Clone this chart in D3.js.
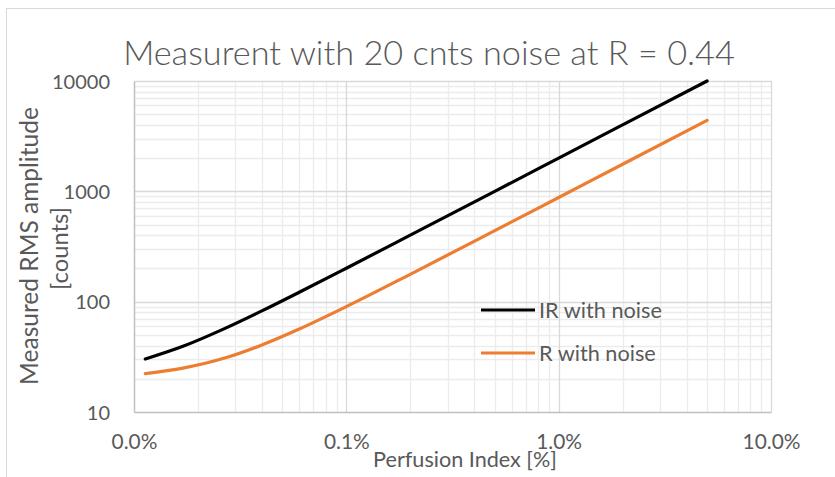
<!DOCTYPE html>
<html><head><meta charset="utf-8">
<script src="https://cdn.jsdelivr.net/npm/d3@7"></script>
<style>body{margin:0;background:#fff}svg{display:block}text{font-family:Lato,"Open Sans",sans-serif;fill:#595959}</style>
</head><body><svg id="c" width="835" height="477"></svg>
<script>
const title = "Measurent with 20 cnts noise at R = 0.44";
const xTitle = "Perfusion Index [%]";
const yTitleLines = ["Measured RMS amplitude", "[counts]"];
const seriesNames = ["IR with noise", "R with noise"];
const perfusionIndex = [0.0113, 0.017, 0.027, 0.04, 0.06, 0.1, 0.2, 0.5, 1, 2, 5];
const irValues = [30.2, 39.4, 57.6, 82.5, 121.7, 201, 400.5, 1000, 2000, 4000, 10000];
const rValues = [22.3, 25.0, 31.0, 40.5, 56.5, 90.2, 177, 440, 880, 1760, 4400];
const xTicks = [0.01, 0.1, 1, 10];
const xTickLabels = ["0.0%", "0.1%", "1.0%", "10.0%"];
const yTicks = [10, 100, 1000, 10000];
const yTickLabels = ["10", "100", "1000", "10000"];

const svg = d3.select("#c");
const m = {l: 134, r: 771, t: 81, b: 412};
const x = d3.scaleLog().domain([0.01, 10]).range([m.l, m.r]);
const y = d3.scaleLog().domain([10, 10000]).range([m.b, m.t]);

// scale a text's font-size so that its width equals target
function fit(sel, target, base) {
  sel.style("font-size", base + "px");
  const w = sel.node().getComputedTextLength();
  const fs = base * target / w;
  sel.style("font-size", fs + "px");
  return fs;
}

// chart frame
svg.append("rect").attr("x", 6.5).attr("y", 8.5).attr("width", 900).attr("height", 600)
  .attr("fill", "none").attr("stroke", "#d9d9d9");

// minor grid
const minorX = [], minorY = [];
for (let d = 0.01; d < 10; d *= 10) for (let k = 2; k <= 9; k++) minorX.push(d * k);
for (let d = 10; d < 10000; d *= 10) for (let k = 2; k <= 9; k++) minorY.push(d * k);
const g = svg.append("g");
g.selectAll(".mx").data(minorX).join("line")
  .attr("x1", d => Math.round(x(d)) + 0.5).attr("x2", d => Math.round(x(d)) + 0.5)
  .attr("y1", m.t).attr("y2", m.b).attr("stroke", "#ececec").attr("stroke-width", 1.3);
g.selectAll(".my").data(minorY).join("line")
  .attr("y1", d => Math.round(y(d)) + 0.5).attr("y2", d => Math.round(y(d)) + 0.5)
  .attr("x1", m.l).attr("x2", m.r).attr("stroke", "#ececec").attr("stroke-width", 1.3);
// major grid
g.selectAll(".Mx").data(xTicks.slice(1)).join("line")
  .attr("x1", d => Math.round(x(d)) + 0.5).attr("x2", d => Math.round(x(d)) + 0.5)
  .attr("y1", m.t).attr("y2", m.b).attr("stroke", "#d9d9d9").attr("stroke-width", 1.3);
g.selectAll(".My").data(yTicks.slice(1)).join("line")
  .attr("y1", d => Math.round(y(d)) + 0.5).attr("y2", d => Math.round(y(d)) + 0.5)
  .attr("x1", m.l).attr("x2", m.r).attr("stroke", "#d9d9d9").attr("stroke-width", 1.3);

// axes
const ax = svg.append("g").attr("transform", `translate(0,${m.b})`)
  .call(d3.axisBottom(x).tickValues(xTicks).tickFormat((d, i) => xTickLabels[i]).tickSize(0).tickPadding(0));
const ay = svg.append("g").attr("transform", `translate(${m.l},0)`)
  .call(d3.axisLeft(y).tickValues(yTicks).tickFormat((d, i) => yTickLabels[i]).tickSize(0).tickPadding(24));
[ax, ay].forEach(a => a.select(".domain").attr("stroke", "#bfbfbf").attr("stroke-width", 1.5));
const yfs = fit(ay.selectAll("text").filter((d, i) => i === 3), 58, 20);
ay.selectAll("text").style("font-size", yfs + "px").attr("fill", "#595959").attr("dy", "0.35em").attr("font-family", null);
const xfs = fit(ax.selectAll("text").filter((d, i) => i === 3), 58, 20);
ax.selectAll("text").style("font-size", xfs + "px").attr("fill", "#595959").attr("dy", null).attr("y", 37).attr("font-family", null);

// lines
const line = d3.line().x(d => x(d[0])).y(d => y(d[1])).curve(d3.curveMonotoneX);
const series = [
  {name: seriesNames[0], vals: irValues, color: "#000000"},
  {name: seriesNames[1], vals: rValues, color: "#ed7d31"}
];
svg.selectAll(".s").data(series).join("path")
  .attr("d", s => line(perfusionIndex.map((p, i) => [p, s.vals[i]])))
  .attr("fill", "none").attr("stroke", s => s.color).attr("stroke-width", 3.2).attr("stroke-linecap", "round");

// legend
const lg = svg.append("g");
let lfs = 19;
series.forEach((s, i) => {
  const yy = 310 + i * 43;
  lg.append("line").attr("x1", 481).attr("x2", 535).attr("y1", yy).attr("y2", yy)
    .attr("stroke", s.color).attr("stroke-width", 3.2);
  const t = lg.append("text").attr("x", 539).attr("y", yy).attr("dy", "0.35em").text(s.name);
  if (i === 0) lfs = fit(t, 123, 19); else t.style("font-size", lfs + "px");
});

// titles
const tt = svg.append("text").attr("x", 429).attr("y", 65).attr("text-anchor", "middle")
  .style("font-weight", 300).text(title);
fit(tt, 612, 33);
const xt = svg.append("text").attr("x", 465).attr("y", 467).attr("text-anchor", "middle").text(xTitle);
fit(xt, 184, 20);
const yt1 = svg.append("text").attr("transform", `translate(38,246) rotate(-90)`)
  .attr("text-anchor", "middle").text(yTitleLines[0]);
fit(yt1, 278, 22);
const yt2 = svg.append("text").attr("transform", `translate(68,248.5) rotate(-90)`)
  .attr("text-anchor", "middle").text(yTitleLines[1]);
fit(yt2, 83, 22);
</script></body></html>
